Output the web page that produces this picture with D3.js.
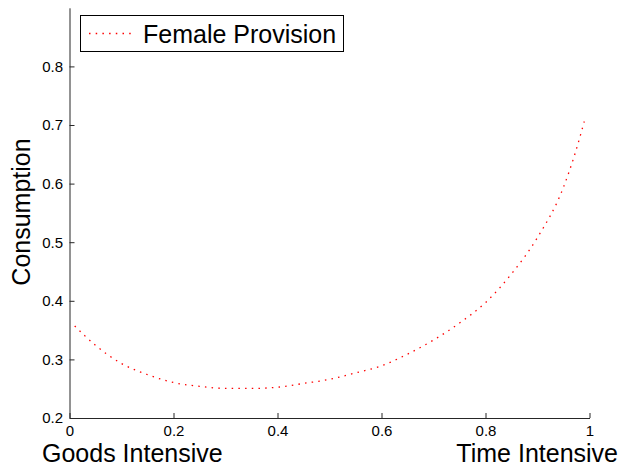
<!DOCTYPE html>
<html>
<head>
<meta charset="utf-8">
<script src="https://cdn.jsdelivr.net/npm/d3@7"></script>
<style>
  body { margin: 0; background: #fff; }
  svg { display: block; font-family: "Liberation Sans", Arial, sans-serif; }
</style>
</head>
<body>
<script>
// share of time intensive goods vs consumption
const shares = [0.01, 0.05, 0.10, 0.15, 0.20, 0.25, 0.30, 0.35, 0.40, 0.45, 0.50,
                0.55, 0.60, 0.65, 0.70, 0.75, 0.80, 0.85, 0.90, 0.95, 0.97, 0.99];
const femaleProvision = [0.357, 0.324, 0.293, 0.274, 0.2605, 0.254, 0.2505, 0.2505, 0.2525, 0.259, 0.266,
                         0.277, 0.289, 0.309, 0.333, 0.362, 0.397, 0.446, 0.508, 0.594, 0.645, 0.706];
const xTicks = [0, 0.2, 0.4, 0.6, 0.8, 1];
const yTicks = [0.2, 0.3, 0.4, 0.5, 0.6, 0.7, 0.8];
const seriesName = 'Female Provision';

const w = 622, h = 466;
const pLeft = 69.5, pRight = 589.5, pTop = 7.8, pBottom = 418;

const svg = d3.select('body').append('svg').attr('width', w).attr('height', h);

const x = d3.scaleLinear().domain([0, 1]).range([pLeft, pRight]);
const y = d3.scaleLinear().domain([0.2, 0.9]).range([pBottom, pTop]);

// axes, ticks pointing inwards like matlab
const xAxis = d3.axisBottom(x).tickValues(xTicks).tickSizeInner(-5).tickSizeOuter(0)
  .tickPadding(7.5).tickFormat(d => d === 0 || d === 1 ? d3.format('d')(d) : d3.format('.1f')(d));
const yAxis = d3.axisLeft(y).tickValues(yTicks).tickSizeInner(-5).tickSizeOuter(0)
  .tickPadding(6.5).tickFormat(d3.format('.1f'));

const gx = svg.append('g').attr('transform', 'translate(0,' + pBottom + ')').call(xAxis);
const gy = svg.append('g').attr('transform', 'translate(' + pLeft + ',0)').call(yAxis);
[gx, gy].forEach(g => {
  g.selectAll('path, line').attr('stroke', '#262626').attr('stroke-width', 1);
  g.selectAll('text').attr('fill', '#000').style('font-size', '15px');
});

// the dotted curve
const line = d3.line().x((d, i) => x(shares[i])).y(d => y(d)).curve(d3.curveMonotoneX);
svg.append('path')
  .datum(femaleProvision)
  .attr('d', line)
  .attr('fill', 'none')
  .attr('stroke', '#ff0000')
  .attr('stroke-width', 1.3)
  .attr('stroke-dasharray', '1.5,5.2');

// labels
svg.append('text').text('Consumption')
  .attr('transform', 'translate(30,212) rotate(-90)')
  .attr('text-anchor', 'middle').style('font-size', '25px');
svg.append('text').text('Goods Intensive')
  .attr('x', 42).attr('y', 462).style('font-size', '25px');
svg.append('text').text('Time Intensive')
  .attr('x', 618).attr('y', 462).attr('text-anchor', 'end').style('font-size', '25px');

// legend
const lg = svg.append('g').attr('id', 'legend');
lg.append('rect').attr('x', 80.5).attr('y', 15.5).attr('width', 263).attr('height', 36)
  .attr('fill', '#fff').attr('stroke', '#000').attr('stroke-width', 1);
lg.append('line').attr('x1', 89).attr('x2', 135).attr('y1', 33.5).attr('y2', 33.5)
  .attr('stroke', '#ff0000').attr('stroke-width', 1.3).attr('stroke-dasharray', '1.5,5.2');
lg.append('text').text(seriesName).attr('x', 143).attr('y', 42.5).style('font-size', '25px');
</script>
</body>
</html>
